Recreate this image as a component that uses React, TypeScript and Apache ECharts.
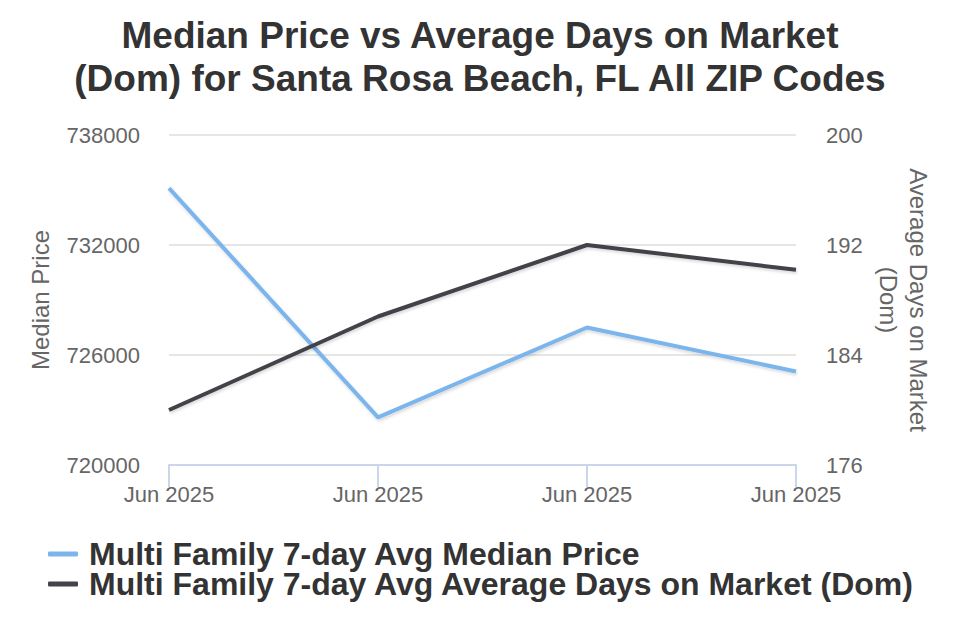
import React, { useEffect, useRef } from "react";
import * as echarts from "echarts";

const categories = ["Jun 2025", "Jun 2025", "Jun 2025", "Jun 2025"];
const medianPrice = [735100, 722600, 727500, 725100];
const avgDom = [180, 186.8, 192, 190.2];
const seriesNames = [
  "Multi Family 7-day Avg Median Price",
  "Multi Family 7-day Avg Average Days on Market (Dom)",
];

const FONT = "'Liberation Sans', Arial, sans-serif";

export default function App() {
  const ref = useRef<HTMLDivElement>(null);
  useEffect(() => {
    if (!ref.current) return;
    const chart = echarts.init(ref.current, undefined, { renderer: "svg" });
    chart.setOption({
      animation: false,
      backgroundColor: "#ffffff",
      textStyle: { fontFamily: FONT },
      title: {
        text: "Median Price vs Average Days on Market\n(Dom) for Santa Rosa Beach, FL All ZIP Codes",
        left: "center",
        top: 9,
        textStyle: {
          fontFamily: FONT,
          fontSize: 37,
          fontWeight: "bold",
          color: "#333333",
          lineHeight: 43,
        },
      },
      legend: {
        orient: "vertical",
        left: 48,
        top: 538,
        padding: 0,
        itemGap: -2,
        itemWidth: 30,
        itemHeight: 5,
        icon: "roundRect",
        textStyle: { fontFamily: FONT, fontSize: 32, fontWeight: "bold", color: "#333333", lineHeight: 30, padding: [0, 0, 0, 6] },
        data: seriesNames,
      },
      grid: { left: 169, right: 164, top: 135, bottom: 175, containLabel: false },
      xAxis: {
        type: "category",
        data: categories,
        boundaryGap: false,
        axisLine: { show: true, lineStyle: { color: "#ccd6eb", width: 2 } },
        axisTick: { show: true, length: 22, lineStyle: { color: "#ccd6eb", width: 2 }, alignWithLabel: true },
        axisLabel: { color: "#666666", fontSize: 22, margin: 18, fontFamily: FONT, showMaxLabel: true, showMinLabel: true, interval: 0 },
        splitLine: { show: false },
      },
      yAxis: [
        {
          type: "value",
          min: 720000,
          max: 738000,
          interval: 6000,
          position: "left",
          name: "Median Price",
          nameLocation: "middle",
          nameGap: 117,
          nameTextStyle: { color: "#666666", fontSize: 24, fontFamily: FONT },
          axisLine: { show: false },
          axisTick: { show: false },
          axisLabel: { color: "#666666", fontSize: 22, margin: 29, fontFamily: FONT, formatter: (v: number) => String(v) },
          splitLine: { show: true, lineStyle: { color: "#e6e6e6", width: 2 } },
        },
        {
          type: "value",
          min: 176,
          max: 200,
          interval: 8,
          position: "right",
          name: "Average Days on Market\n(Dom)",
          nameLocation: "middle",
          nameRotate: -90,
          nameGap: 74,
          nameTextStyle: { color: "#666666", fontSize: 24, fontFamily: FONT, lineHeight: 30 },
          axisLine: { show: false },
          axisTick: { show: false },
          axisLabel: { color: "#666666", fontSize: 22, margin: 30, fontFamily: FONT, formatter: (v: number) => String(v) },
          splitLine: { show: false },
        },
      ],
      series: [
        {
          name: seriesNames[0],
          type: "line",
          yAxisIndex: 0,
          data: medianPrice,
          symbol: "none",
          lineStyle: { color: "#7cb5ec", width: 4, shadowColor: "rgba(0,0,0,0.15)", shadowBlur: 3, shadowOffsetX: 1, shadowOffsetY: 2 },
          itemStyle: { color: "#7cb5ec" },
        },
        {
          name: seriesNames[1],
          type: "line",
          yAxisIndex: 1,
          data: avgDom,
          symbol: "none",
          lineStyle: { color: "#434348", width: 4, shadowColor: "rgba(0,0,0,0.15)", shadowBlur: 3, shadowOffsetX: 1, shadowOffsetY: 2 },
          itemStyle: { color: "#434348" },
        },
      ],
    });
    return () => chart.dispose();
  }, []);
  return <div ref={ref} style={{ position: "absolute", left: 0, top: 0, width: 960, height: 640 }} />;
}
